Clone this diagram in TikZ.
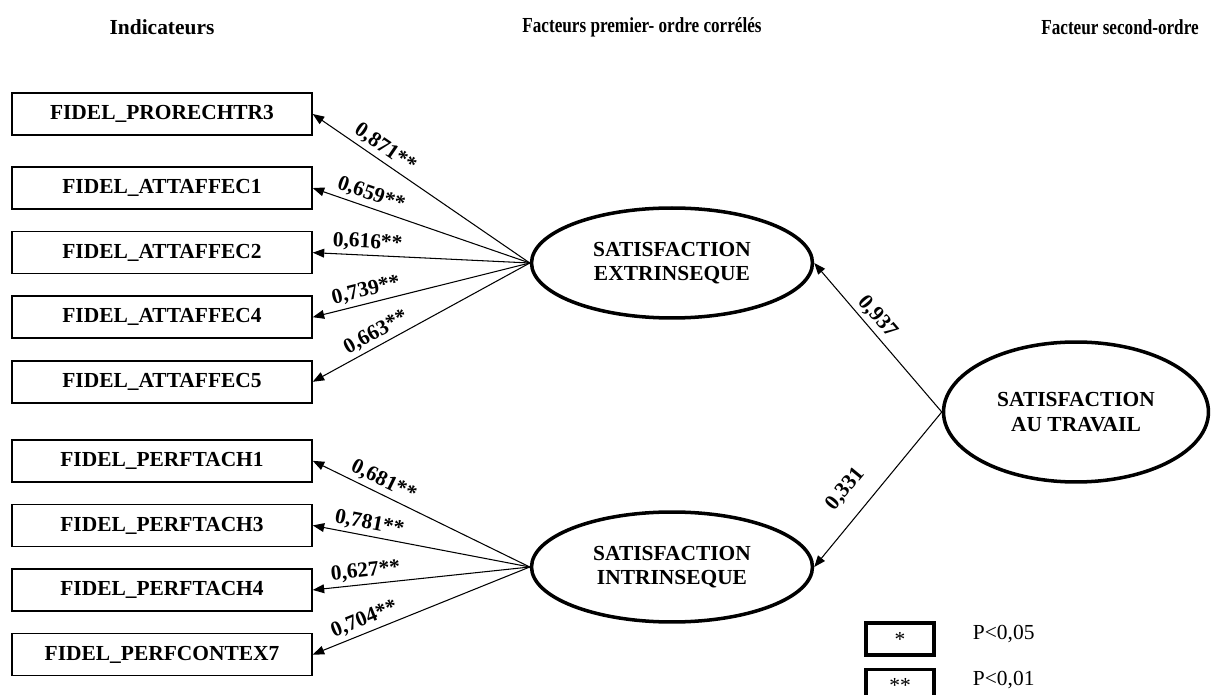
\documentclass[tikz,border=0pt]{standalone}
\usepackage{fontspec}
\setmainfont{Liberation Serif}
\usepackage{graphicx}
\usepackage{tikz}
\usetikzlibrary{arrows.meta, positioning, shapes.geometric}
\newcommand{\diagfont}{\fontsize{12.2pt}{14pt}\selectfont}
\newcommand{\narrow}[1]{\scalebox{0.8}[1]{#1}}

\begin{document}
\begin{tikzpicture}[x=0.02cm, y=-0.02cm,
  ind/.style={rectangle, draw, line width=0.9pt, minimum width=6cm,
    minimum height=0.84cm, inner sep=0pt, font=\diagfont\bfseries},
  latent/.style={ellipse, draw, line width=2pt, minimum width=5.62cm,
    minimum height=2.2cm, inner sep=0pt, align=center, font=\diagfont\bfseries},
  arr/.style={-{Triangle[length=6.5pt, width=5pt]}, line width=0.6pt},
  coef/.style={sloped, above, inner sep=2pt, font=\diagfont\bfseries},
  head/.style={font=\diagfont\bfseries},
  legbox/.style={rectangle, draw, line width=2pt, minimum width=1.36cm,
    minimum height=0.64cm, font=\diagfont},
  node distance=0.42cm and 0.7cm
]
\useasboundingbox (0,0) rectangle (1211,695);

% column headings
\node[head] (hind) at (162,27) {Indicateurs};
\node[head] (hfirst) at (642,27) {\narrow{Facteurs premier- ordre corrélés}};
\node[head] (hsecond) at (1120,27) {\narrow{Facteur second-ordre}};

% indicators
\node[ind] (pro3) at (162,114) {FIDEL\_PRORECHTR3};
\node[ind, below=0.61cm of pro3] (att1) {FIDEL\_ATTAFFEC1};
\node[ind, below=of att1] (att2) {FIDEL\_ATTAFFEC2};
\node[ind, below=of att2] (att4) {FIDEL\_ATTAFFEC4};
\node[ind, below=of att4] (att5) {FIDEL\_ATTAFFEC5};
\node[ind, below=0.71cm of att5] (perf1) {FIDEL\_PERFTACH1};
\node[ind, below=of perf1] (perf3) {FIDEL\_PERFTACH3};
\node[ind, below=of perf3] (perf4) {FIDEL\_PERFTACH4};
\node[ind, below=of perf4] (ctx7) {FIDEL\_PERFCONTEX7};

% latent factors
\node[latent] (extr) at (672,263) {SATISFACTION\\EXTRINSEQUE};
\node[latent] (intr) at (672,567) {SATISFACTION\\INTRINSEQUE};
\node[latent, minimum width=5.3cm, minimum height=2.8cm] (trav) at (1076,412)
  {SATISFACTION\\AU TRAVAIL};

% loadings
\draw[arr] (extr.west) -- node[coef, pos=0.70] {0,871**} (pro3.east);
\draw[arr] (extr.west) -- node[coef, pos=0.75] {0,659**} (att1.east);
\draw[arr] (extr.west) -- node[coef, pos=0.75] {0,616**} (att2.east);
\draw[arr] (extr.west) -- node[coef, pos=0.74] {0,739**} (att4.east);
\draw[arr] (extr.west) -- node[coef, pos=0.68] {0,663**} (att5.east);
\draw[arr] (intr.west) -- node[coef, pos=0.70] {0,681**} (perf1.east);
\draw[arr] (intr.west) -- node[coef, pos=0.75] {0,781**} (perf3.east);
\draw[arr] (intr.west) -- node[coef, pos=0.75] {0,627**} (perf4.east);
\draw[arr] (intr.west) -- node[coef, pos=0.74] {0,704**} (ctx7.east);

\draw[arr] (trav.west) -- node[coef, pos=0.58] {0,937} (extr.east);
\draw[arr] (trav.west) -- node[coef, pos=0.6, above=7pt] {0,331} (intr.east);

% legend
\node[legbox] (sig1) at (900,639) {*};
\node[legbox, below=0.22cm of sig1] (sig2) {**};
\node[font=\diagfont, right=0.62cm of sig1, yshift=3pt] (p05) {P<0,05};
\node[font=\diagfont, right=0.62cm of sig2, yshift=3pt] (p01) {P<0,01};
\end{tikzpicture}
\end{document}
